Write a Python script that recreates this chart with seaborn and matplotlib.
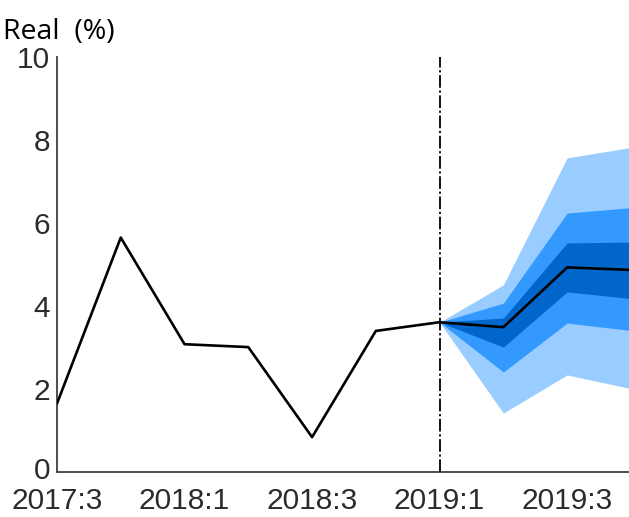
import matplotlib
matplotlib.use("Agg")
import matplotlib.pyplot as plt
import matplotlib.transforms as mtransforms
import seaborn as sns
import pandas as pd

# Quarters shown on the horizontal axis
quarters = ["2017:3", "2017:4", "2018:1", "2018:2", "2018:3",
            "2018:4", "2019:1", "2019:2", "2019:3", "2019:4"]
tick_labels = ["2017:3", "2018:1", "2018:3", "2019:1", "2019:3"]

# Observed growth (%) and central projection from 2019:1 on
observed = [1.65, 5.65, 3.08, 3.01, 0.84, 3.40, 3.61]
projection = [3.49, 4.93, 4.87]

# Fan-chart bands (lower, upper) from 2019:1 to 2019:4
band_outer_lo = [3.61, 1.42, 2.34, 2.01]
band_outer_hi = [3.61, 4.51, 7.57, 7.82]
band_mid_lo = [3.61, 2.41, 3.59, 3.41]
band_mid_hi = [3.61, 4.07, 6.24, 6.37]
band_inner_lo = [3.61, 3.01, 4.34, 4.18]
band_inner_hi = [3.61, 3.71, 5.52, 5.54]

sns.set_style("white")

values = observed + projection
df = pd.DataFrame({"t": range(len(quarters)), "quarter": quarters, "value": values})
fc_start = len(observed) - 1
fc_t = list(range(fc_start, len(quarters)))

fig = plt.figure(figsize=(6.29, 5.17), dpi=100)
ax = fig.add_axes([0.0906, 0.087, 0.9094, 0.8027])

ax.fill_between(fc_t, band_outer_lo, band_outer_hi, color="#99ccff", lw=0, zorder=1)
ax.fill_between(fc_t, band_mid_lo, band_mid_hi, color="#3399ff", lw=0, zorder=2)
ax.fill_between(fc_t, band_inner_lo, band_inner_hi, color="#0066cc", lw=0, zorder=3)

sns.lineplot(data=df, x="t", y="value", color="black", lw=1.9, ax=ax, zorder=5)

ax.axvline(fc_start, color="black", lw=1.3, dashes=(7, 1.5, 1.2, 1.5), zorder=4)

ax.set_xlim(0, 8.97)
ax.set_ylim(0, 10)
tick_pos = [quarters.index(q) for q in tick_labels]
ax.set_xticks(tick_pos)
ax.set_xticklabels(tick_labels)
ax.set_yticks(range(0, 11, 2))
ax.set_xlabel("")
ax.set_ylabel("")

for side in ("top", "right"):
    ax.spines[side].set_visible(False)
for side in ("left", "bottom"):
    ax.spines[side].set_color("#404040")
    ax.spines[side].set_linewidth(1.3)

ax.tick_params(axis="both", direction="in", length=6, width=1.2, color="#404040",
               labelcolor="#2b2b2b")
ax.tick_params(axis="y", pad=5, labelsize=21.5)
ax.tick_params(axis="x", pad=11, labelsize=21.5)
for lab in ax.get_xticklabels() + ax.get_yticklabels():
    lab.set_family("Liberation Sans")

# nudge the "0" label up slightly so it clears the first date label
lift = mtransforms.ScaledTranslation(0, 3 / 72, fig.dpi_scale_trans)
zero_label = ax.get_yticklabels()[0]
zero_label.set_transform(zero_label.get_transform() + lift)

fig.text(0.005, 0.924, "Real  (%)", family="Open Sans", fontsize=20.5,
         color="black", ha="left", va="baseline")

fig.savefig("out.png", dpi=100, facecolor="white")
